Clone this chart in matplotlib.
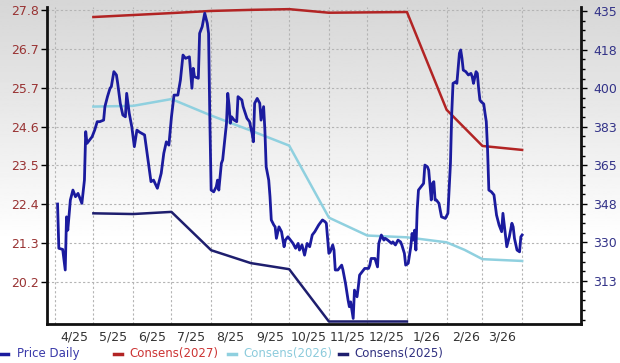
import matplotlib
matplotlib.use("Agg")
import matplotlib.pyplot as plt
from matplotlib.lines import Line2D
from matplotlib.ticker import FixedLocator, AutoMinorLocator, NullFormatter
import numpy as np
import pandas as pd

START = pd.Timestamp("2025-04-01")

# daily price, days since START
price_days = [
    2, 3, 6, 8, 9, 10, 12, 14, 16, 18,
    21, 23, 24, 25, 29, 31, 33, 35, 38, 39,
    41, 43, 44, 46, 48, 49, 51, 53, 55, 56,
    58, 60, 62, 64, 66, 70, 73, 75, 77, 80,
    83, 85, 87, 89, 91, 93, 96, 98, 100, 102,
    105, 107, 108, 109, 112, 113, 115, 117, 119, 120,
    121, 122, 124, 126, 127, 128, 130, 131, 134, 135,
    136, 137, 138, 140, 142, 143, 146, 147, 150, 152,
    154, 155, 156, 158, 160, 161, 163, 164, 165, 167,
    168, 169, 171, 172, 173, 175, 177, 179, 180, 182,
    184, 186, 188, 190, 191, 193, 195, 197, 199, 201,
    203, 206, 207, 209, 211, 212, 214, 215, 217, 218,
    219, 221, 224, 225, 227, 229, 230, 231, 233, 234,
    236, 237, 238, 240, 242, 245, 246, 247, 250, 252,
    253, 255, 257, 258, 260, 263, 264, 266, 268, 270,
    271, 273, 274, 276, 278, 279, 280, 281, 282, 283,
    284, 286, 288, 289, 291, 292, 294, 295, 296, 297,
    298, 300, 302, 305, 307, 309, 310, 311, 313, 314,
    316, 317, 318, 319, 321, 323, 325, 326, 327, 329,
    330, 331, 332, 333, 335, 336, 337, 338, 339, 341,
    343, 345, 347, 349, 350, 352, 353, 355, 357, 358,
    359, 361, 363, 364, 365,
]
price_vals = [
    347.8, 327.8, 327.3, 318.0, 342.0, 336.0, 349.6, 354.1, 351.1, 352.6,
    348.1, 358.6, 380.5, 375.2, 378.2, 381.2, 385.0, 385.0, 385.7, 391.8,
    396.3, 400.1, 400.8, 407.6, 406.1, 402.3, 393.3, 388.0, 387.2, 397.8,
    388.8, 382.7, 373.7, 381.2, 380.3, 379.0, 366.2, 357.9, 358.6, 354.9,
    361.7, 370.7, 375.9, 374.4, 387.2, 397.0, 397.0, 403.8, 415.1, 413.6,
    414.3, 400.1, 409.1, 405.3, 404.6, 424.9, 427.9, 434.0, 429.4, 424.9,
    385.7, 354.1, 353.3, 355.6, 358.6, 354.1, 366.2, 367.7, 384.3, 397.8,
    392.5, 384.3, 387.2, 385.7, 385.0, 396.3, 394.8, 391.8, 386.5, 385.0,
    379.7, 375.9, 393.3, 395.5, 393.3, 385.7, 391.8, 381.2, 364.6, 358.6,
    351.1, 340.6, 338.3, 337.5, 332.3, 337.5, 335.3, 328.5, 331.5, 333.0,
    331.5, 330.0, 327.8, 330.0, 327.0, 329.3, 324.7, 330.0, 328.5, 333.8,
    335.3, 338.3, 339.1, 340.6, 339.8, 339.1, 325.5, 326.2, 329.3, 327.0,
    318.0, 318.0, 320.2, 318.0, 311.9, 304.4, 301.4, 303.6, 296.1, 308.9,
    305.9, 310.4, 315.7, 317.2, 318.7, 318.7, 320.2, 323.2, 323.2, 319.4,
    330.0, 333.8, 331.5, 332.3, 331.5, 330.0, 330.7, 329.3, 331.5, 330.7,
    329.3, 325.5, 320.2, 321.0, 328.5, 334.5, 331.5, 336.0, 327.0, 345.1,
    354.1, 355.6, 357.1, 365.4, 364.6, 363.1, 349.6, 357.1, 357.9, 349.6,
    349.6, 348.1, 342.0, 341.3, 343.6, 366.2, 388.8, 402.3, 403.0, 402.3,
    415.9, 417.4, 413.6, 408.3, 407.6, 406.1, 406.8, 405.3, 402.3, 407.6,
    406.8, 400.1, 394.8, 394.0, 393.0, 388.8, 385.0, 372.2, 354.1, 353.3,
    351.9, 342.8, 338.3, 335.3, 343.6, 333.8, 328.5, 333.0, 339.1, 337.5,
    332.3, 327.0, 326.2, 333.0, 333.8,
]

cons27_dates = ["2025-05-01", "2025-07-01", "2025-08-01", "2025-09-01", "2025-10-01",
                "2025-11-01", "2025-12-01", "2026-01-01", "2026-02-01", "2026-03-01",
                "2026-04-01"]
cons27_vals = [27.60, 27.71, 27.77, 27.80, 27.82, 27.72, 27.73, 27.74, 25.01, 24.00, 23.89]

cons26_dates = ["2025-05-01", "2025-06-01", "2025-07-01", "2025-08-01", "2025-09-01",
                "2025-10-01", "2025-11-01", "2025-12-01", "2026-01-01", "2026-02-01",
                "2026-02-15", "2026-03-01", "2026-04-01"]
cons26_vals = [25.10, 25.12, 25.31, 24.85, 24.43, 24.01, 22.00, 21.50, 21.45, 21.31,
               21.10, 20.84, 20.79]

cons25_dates = ["2025-05-01", "2025-06-01", "2025-07-01", "2025-08-01", "2025-09-01",
                "2025-10-01", "2025-11-01", "2025-12-01", "2026-01-01"]
cons25_vals = [22.12, 22.10, 22.16, 21.09, 20.73, 20.56, 19.10, 19.10, 19.10]

eps_labels = ["20.2", "21.3", "22.4", "23.5", "24.6", "25.7", "26.7", "27.8"]
price_ticks = np.linspace(313, 435, 8)

C_PRICE = "#1b1b9e"
C_27 = "#b22424"
C_26 = "#8fd0df"
C_25 = "#1e1e6e"


def main():
    assert len(price_days) == len(price_vals)
    price_dates = START + pd.to_timedelta(price_days, unit="D")

    fig = plt.figure(figsize=(6.2, 3.63), dpi=100)

    # gray-to-white background
    bg = fig.add_axes([0, 0, 1, 1], zorder=-5)
    shade = np.clip(np.linspace(0.84, 1.08, 256), 0, 1)
    bg.imshow(shade[:, None], aspect="auto", cmap="gray", vmin=0, vmax=1, extent=[0, 1, 0, 1],
              origin="upper")
    bg.axis("off")

    ax = fig.add_axes([47 / 620, 1 - 324 / 363, 534 / 620, 317 / 363])
    ax.set_facecolor("none")
    ax2 = ax.twinx()

    ax.plot(pd.to_datetime(cons27_dates), cons27_vals, color=C_27, lw=1.8, zorder=3)
    ax.plot(pd.to_datetime(cons26_dates), cons26_vals, color=C_26, lw=1.8, zorder=3)
    ax.plot(pd.to_datetime(cons25_dates), cons25_vals, color=C_25, lw=1.8, zorder=3)
    ax2.plot(price_dates, price_vals, color=C_PRICE, lw=2.0)

    ax.set_ylim(19.03, 27.88)
    ax2.set_ylim(293.6, 436.8)
    ax.set_xlim(START - pd.Timedelta(days=6.25), START + pd.Timedelta(days=411))

    # month boundaries carry grid, mid-month carries labels
    month_starts = pd.date_range("2025-04-01", "2026-04-01", freq="MS")
    mids = month_starts[:-1] + pd.Timedelta(days=15)
    ax.xaxis.set_major_locator(FixedLocator(matplotlib.dates.date2num(month_starts)))
    ax.xaxis.set_major_formatter(NullFormatter())
    ax.xaxis.set_minor_locator(FixedLocator(matplotlib.dates.date2num(mids)))
    ax.set_xticklabels([f"{m.month}/{m.strftime('%y')}" for m in mids], minor=True)
    ax.tick_params(axis="x", which="both", length=0, pad=5, labelsize=9, labelcolor="#333333")

    ax.set_yticks(np.linspace(20.2, 27.8, 8))
    ax.set_yticklabels(eps_labels)
    ax.tick_params(axis="y", length=4, width=1, pad=2, labelsize=9, labelcolor="#993333")

    ax2.set_yticks(price_ticks)
    ax2.set_yticklabels([f"{v:.0f}" for v in price_ticks])
    ax2.yaxis.set_minor_locator(AutoMinorLocator(4))
    ax2.tick_params(axis="y", which="major", length=4, width=1, pad=5, labelsize=9,
                    labelcolor="#333388")
    ax2.tick_params(axis="y", which="minor", length=3, width=1)

    ax.grid(True, which="major", ls=(0, (2, 2)), color="#b4b4b4", lw=0.8)
    ax.set_axisbelow(True)

    for side in ["left", "bottom"]:
        ax.spines[side].set_linewidth(2)
        ax.spines[side].set_color("#111111")
    ax.spines["top"].set_visible(False)
    ax.spines["right"].set_visible(False)
    for side in ["left", "bottom", "top"]:
        ax2.spines[side].set_visible(False)
    ax2.spines["right"].set_linewidth(2)
    ax2.spines["right"].set_color("#111111")

    # legend along the bottom
    entries = [
        ("Price Daily", C_PRICE, "#3a3aaa", 0, 17),
        ("Consens(2027)", C_27, "#cc3333", 114, 129),
        ("Consens(2026)", C_26, "#8ccbdc", 228, 243),
        ("Consens(2025)", C_25, "#303080", 339, 354),
    ]
    ly = 1 - 354 / 363
    for label, lc, tc, x0, xt in entries:
        fig.add_artist(Line2D([x0 / 620, (x0 + 8) / 620], [ly, ly], transform=fig.transFigure,
                              color=lc, lw=2.5))
        fig.text(xt / 620, ly, label, color=tc, fontsize=8.5, va="center", ha="left")

    fig.savefig("out.png", dpi=100)


if __name__ == "__main__":
    main()
